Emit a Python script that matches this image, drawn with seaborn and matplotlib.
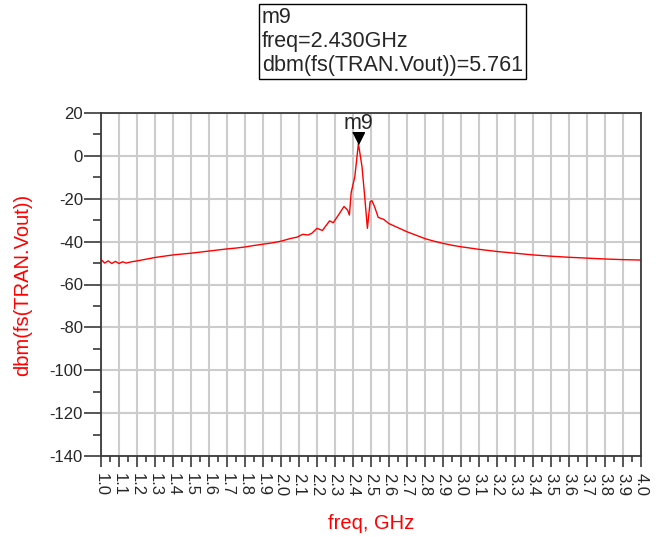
import numpy as np
import pandas as pd
import matplotlib
matplotlib.use("Agg")
import matplotlib.pyplot as plt
import seaborn as sns

# spectrum (freq in GHz, level in dBm)
freq = [1.00, 1.02, 1.04, 1.06, 1.08, 1.10, 1.12, 1.14, 1.17, 1.20,
        1.25, 1.30, 1.35, 1.40, 1.45, 1.50, 1.55, 1.60, 1.65, 1.70,
        1.75, 1.80, 1.85, 1.90, 1.95, 2.00, 2.05, 2.09, 2.12, 2.15,
        2.17, 2.20, 2.23, 2.27, 2.29, 2.32, 2.35, 2.37, 2.38, 2.39,
        2.41, 2.43, 2.45, 2.465, 2.48, 2.495, 2.505, 2.52, 2.54, 2.57,
        2.60, 2.65, 2.70, 2.75, 2.80, 2.85, 2.90, 2.95, 3.00, 3.10,
        3.20, 3.30, 3.40, 3.50, 3.60, 3.70, 3.80, 3.90, 4.00]
dbm = [-48.3, -50.0, -49.0, -50.2, -49.2, -50.2, -49.4, -50.0, -49.4, -49.0,
       -48.2, -47.4, -46.8, -46.2, -45.8, -45.4, -44.9, -44.4, -43.9, -43.4,
       -43.0, -42.5, -41.8, -41.2, -40.6, -39.8, -38.6, -37.9, -36.6, -36.9,
       -36.2, -33.8, -34.8, -30.3, -31.2, -27.5, -23.6, -25.3, -27.6, -17.0,
       -9.8, 5.761, -5.0, -19.0, -33.8, -21.4, -20.9, -23.7, -28.7, -29.6,
       -31.6, -33.5, -35.4, -37.0, -38.6, -39.8, -40.8, -41.7, -42.4, -43.6,
       -44.6, -45.4, -46.2, -46.8, -47.3, -47.7, -48.1, -48.4, -48.6]

marker_freq = 2.430
marker_val = 5.761
x_ticks = np.round(np.arange(1.0, 4.01, 0.1), 1)
y_ticks = list(range(-140, 21, 20))

df = pd.DataFrame({"freq": freq, "dbm": dbm})

sns.set_style("white")
plt.rcParams["font.family"] = ["Liberation Sans", "DejaVu Sans"]

fig = plt.figure(figsize=(6.61, 5.39), dpi=100)
ax = fig.add_axes([101/661, 1-456/539, 540/661, 343/539])

sns.lineplot(data=df, x="freq", y="dbm", color="#ff0000", lw=1.0, ax=ax)

ax.set_xlim(1.0, 4.0)
ax.set_ylim(-140, 20)
ax.set_xticks(x_ticks)
ax.set_xticklabels([f"{v:.1f}" for v in x_ticks], rotation=-90, fontsize=12)
ax.set_xticks(np.arange(1.05, 4.0, 0.1), minor=True)
ax.set_yticks(y_ticks)
ax.set_yticklabels([str(v) for v in y_ticks], fontsize=12)
ax.set_yticks(range(-130, 20, 20), minor=True)

ax.grid(True, which="major", color="#cccccc", lw=1.5)
ax.set_axisbelow(True)
for s in ax.spines.values():
    s.set_visible(True)
    s.set_color("#3a3a3a")
    s.set_linewidth(1.3)
ax.tick_params(axis="y", which="both", left=True)
ax.tick_params(axis="x", which="both", bottom=True)
ax.tick_params(axis="y", which="major", direction="out", length=12, width=1.2, color="#3a3a3a", pad=1)
ax.tick_params(axis="y", which="minor", direction="out", length=6, width=1.2, color="#3a3a3a")
ax.tick_params(axis="x", which="major", direction="out", length=8, width=1.2, color="#3a3a3a", pad=4)
ax.tick_params(axis="x", which="minor", direction="out", length=4, width=1.2, color="#3a3a3a")

ax.set_xlabel("freq, GHz", color="#ff0000", fontsize=14.5, va="center")
ax.xaxis.set_label_coords(0.5, -0.198)
ax.set_ylabel("dbm(fs(TRAN.Vout))", color="#ff0000", fontsize=14.5, va="center")
ax.yaxis.set_label_coords(-0.146, 0.5)

# marker m9
ax.plot([marker_freq], [marker_val], marker=[(-0.5, 1), (0.5, 1), (0, 0)],
        ms=17, color="black", ls="none", clip_on=False)
ax.annotate("m9", xy=(marker_freq, marker_val), xytext=(0, 15), textcoords="offset pixels",
            ha="center", va="baseline", fontsize=15.5, annotation_clip=False)

fig.text(262/661, 1-7/539,
         f"m9\nfreq={marker_freq:.3f}GHz\ndbm(fs(TRAN.Vout))={marker_val:.3f}",
         ha="left", va="top", fontsize=15.5, linespacing=1.18,
         bbox=dict(boxstyle="square,pad=0.15", fc="white", ec="black", lw=1))

fig.savefig("out.png", dpi=100)
